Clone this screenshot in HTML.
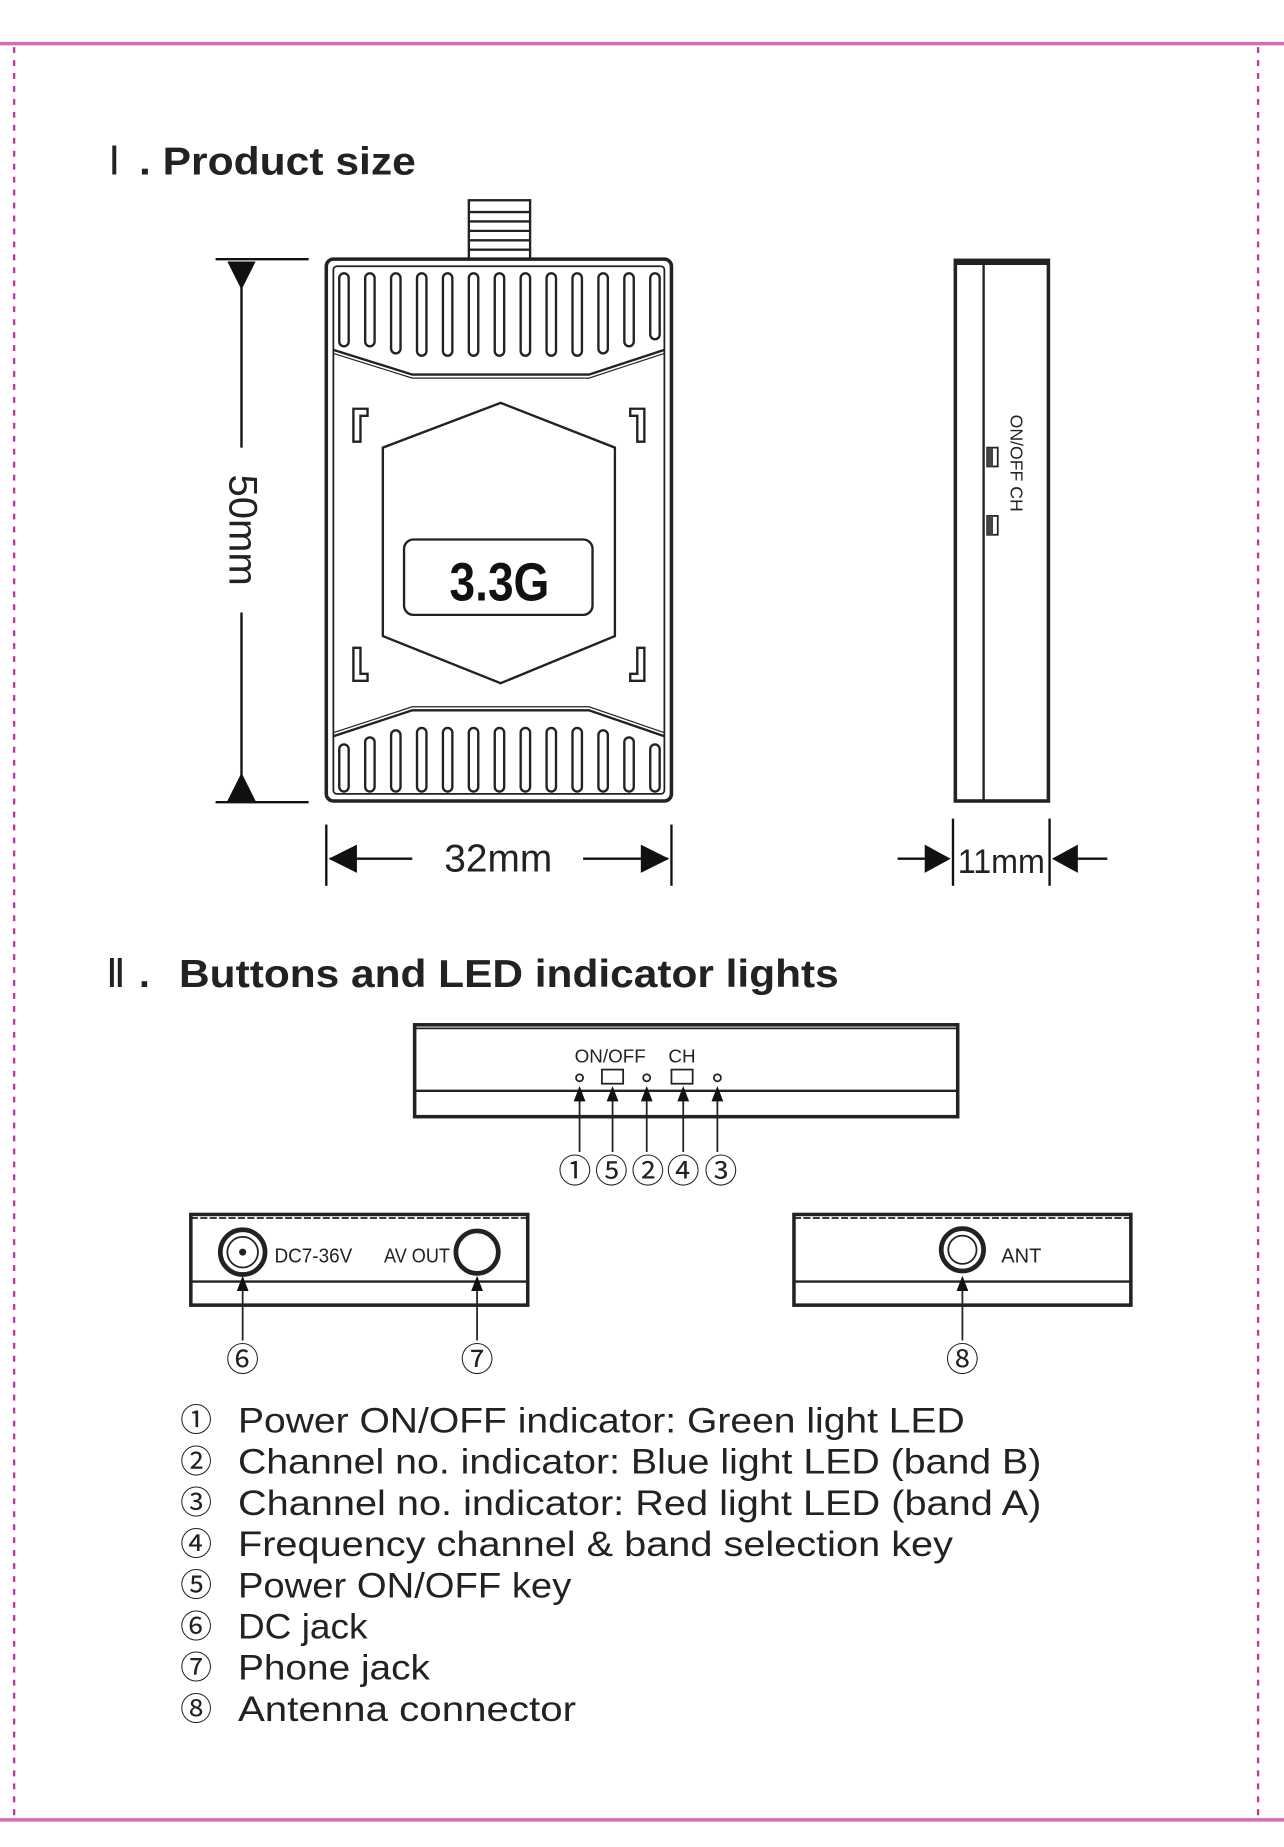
<!DOCTYPE html>
<html><head><meta charset="utf-8"><style>html,body{margin:0;padding:0;background:#fff}svg{display:block}</style></head>
<body>
<svg width="1284" height="1847" viewBox="0 0 1090 1568" preserveAspectRatio="none" xmlns="http://www.w3.org/2000/svg" font-family="Liberation Sans, sans-serif">
<rect width="1090" height="1568" fill="#fff"/>
<line x1="0" y1="37" x2="1090" y2="37" stroke="#d36bb8" stroke-width="3"/>
<line x1="0" y1="1545" x2="1090" y2="1545" stroke="#d36bb8" stroke-width="3"/>
<line x1="12" y1="40" x2="12" y2="1543" stroke="#c0389f" stroke-width="2" stroke-dasharray="5,6"/>
<line x1="1068" y1="40" x2="1068" y2="1543" stroke="#c0389f" stroke-width="2" stroke-dasharray="5,6"/>

<text x="92" y="148" font-size="34" fill="#222" font-family="Liberation Serif, serif">Ⅰ</text>
<text x="118" y="148" font-size="33" font-weight="bold" fill="#222" textLength="235" lengthAdjust="spacingAndGlyphs">. Product size</text>

<!-- antenna -->
<rect x="398" y="170" width="52" height="52" fill="#fff" stroke="#222" stroke-width="2"/>
<g stroke="#222" stroke-width="2">
<line x1="398" y1="180" x2="450" y2="180"/><line x1="398" y1="188" x2="450" y2="188"/><line x1="398" y1="196" x2="450" y2="196"/><line x1="398" y1="204" x2="450" y2="204"/><line x1="398" y1="212" x2="450" y2="212"/>
</g>
<!-- front device -->
<rect x="277" y="220" width="293" height="460" rx="6" fill="#fff" stroke="#222" stroke-width="3"/>
<rect x="283" y="226" width="281" height="448" rx="3" fill="none" stroke="#222" stroke-width="1.5"/>
<g fill="none" stroke="#222" stroke-width="2">
<path d="M283,297 L350,318 L500,318 L564,297"/>
<path d="M283,300 L350,321 L500,321 L564,300" stroke-width="1"/>
<path d="M283,625 L350,603 L500,603 L564,625"/>
<path d="M283,622 L350,600 L500,600 L564,622" stroke-width="1"/>
<path d="M425,342 L522,380 L522,540 L425,580 L325,540 L325,380 Z"/>
<path d="M300,347 h12 v6 h-6 v22 h-6 z"/>
<path d="M547,347 h-12 v6 h6 v22 h6 z"/>
<path d="M300,578 h12 v-6 h-6 v-22 h-6 z"/>
<path d="M547,578 h-12 v-6 h6 v-22 h6 z"/>
<rect x="343" y="458" width="160" height="64" rx="8"/>
</g>
<g fill="none" stroke="#222" stroke-width="2">
<rect x="288" y="232" width="8" height="62" rx="4"/><rect x="310" y="232" width="8" height="62" rx="4"/><rect x="332" y="232" width="8" height="68" rx="4"/><rect x="354" y="232" width="8" height="70" rx="4"/><rect x="376" y="232" width="8" height="70" rx="4"/><rect x="398" y="232" width="8" height="70" rx="4"/><rect x="420" y="232" width="8" height="70" rx="4"/><rect x="442" y="232" width="8" height="70" rx="4"/><rect x="464" y="232" width="8" height="70" rx="4"/><rect x="486" y="232" width="8" height="70" rx="4"/><rect x="508" y="232" width="8" height="68" rx="4"/><rect x="530" y="232" width="8" height="62" rx="4"/><rect x="552" y="232" width="8" height="56" rx="4"/>
<rect x="288" y="632" width="8" height="40" rx="4"/><rect x="310" y="626" width="8" height="46" rx="4"/><rect x="332" y="620" width="8" height="52" rx="4"/><rect x="354" y="618" width="8" height="54" rx="4"/><rect x="376" y="618" width="8" height="54" rx="4"/><rect x="398" y="618" width="8" height="54" rx="4"/><rect x="420" y="618" width="8" height="54" rx="4"/><rect x="442" y="618" width="8" height="54" rx="4"/><rect x="464" y="618" width="8" height="54" rx="4"/><rect x="486" y="618" width="8" height="54" rx="4"/><rect x="508" y="620" width="8" height="52" rx="4"/><rect x="530" y="626" width="8" height="46" rx="4"/><rect x="552" y="632" width="8" height="40" rx="4"/>
</g>
<text x="424" y="510" font-size="46" font-weight="bold" text-anchor="middle" fill="#111" transform="translate(424 0) scale(0.85 1) translate(-424 0)">3.3G</text>

<!-- 50mm dim -->
<g stroke="#111" stroke-width="2">
<line x1="183" y1="220" x2="262" y2="220"/><line x1="183" y1="681" x2="262" y2="681"/>
<line x1="205" y1="240" x2="205" y2="380"/>
<line x1="205" y1="520" x2="205" y2="660"/>
</g>
<path d="M193,222 L217,222 L205,246 Z M193,680 L217,680 L205,656 Z" fill="#111"/>
<text x="0" y="0" font-size="34" fill="#222" text-anchor="middle" transform="translate(195 450) rotate(90)">50mm</text>

<!-- 32mm dim -->
<g stroke="#111" stroke-width="2">
<line x1="277" y1="700" x2="277" y2="752"/><line x1="570" y1="700" x2="570" y2="752"/>
<line x1="280" y1="729" x2="350" y2="729"/><line x1="495" y1="729" x2="567" y2="729"/>
</g>
<path d="M279,729 L303,717 L303,741 Z M568,729 L544,717 L544,741 Z" fill="#111"/>
<text x="423" y="740" font-size="33" fill="#222" text-anchor="middle">32mm</text>

<!-- side view -->
<rect x="811" y="221" width="79" height="459" fill="#fff" stroke="#222" stroke-width="3"/>
<line x1="811" y1="223" x2="890" y2="223" stroke="#222" stroke-width="4"/>
<line x1="835" y1="222" x2="835" y2="679" stroke="#222" stroke-width="2"/>
<rect x="838" y="380" width="9" height="16" fill="#fff" stroke="#222" stroke-width="1.5"/>
<rect x="838" y="380" width="5" height="16" fill="#444"/>
<rect x="838" y="438" width="9" height="16" fill="#fff" stroke="#222" stroke-width="1.5"/>
<rect x="838" y="438" width="5" height="16" fill="#444"/>
<text font-size="15" fill="#222" transform="translate(858 352) rotate(90)">ON/OFF  CH</text>
<g stroke="#111" stroke-width="2">
<line x1="809" y1="695" x2="809" y2="752"/><line x1="891" y1="695" x2="891" y2="752"/>
<line x1="762" y1="729" x2="790" y2="729"/><line x1="912" y1="729" x2="940" y2="729"/>
</g>
<path d="M807,729 L785,717 L785,741 Z M893,729 L915,717 L915,741 Z" fill="#111"/>
<text x="850" y="741" font-size="29" fill="#222" text-anchor="middle" textLength="74" lengthAdjust="spacingAndGlyphs">11mm</text>

<text x="90" y="838" font-size="34" fill="#222" font-family="Liberation Serif, serif">Ⅱ</text>
<text x="118" y="838" font-size="33" font-weight="bold" fill="#222">.</text>
<text x="152" y="838" font-size="33" font-weight="bold" fill="#222" textLength="560" lengthAdjust="spacingAndGlyphs">Buttons and LED indicator lights</text>

<!-- top panel -->
<rect x="352" y="870" width="461" height="78" fill="#fff" stroke="#222" stroke-width="3"/>
<line x1="352" y1="873" x2="813" y2="873" stroke="#222" stroke-width="1.5"/>
<line x1="352" y1="926" x2="813" y2="926" stroke="#222" stroke-width="2"/>
<text x="518" y="902" font-size="16" fill="#222" text-anchor="middle">ON/OFF</text>
<text x="579" y="902" font-size="16" fill="#222" text-anchor="middle">CH</text>
<g fill="#fff" stroke="#222" stroke-width="1.5">
<circle cx="492" cy="915" r="3"/><circle cx="549" cy="915" r="3"/><circle cx="609" cy="915" r="3"/>
<rect x="511" y="908" width="18" height="12"/><rect x="570" y="908" width="18" height="12"/>
</g>
<g stroke="#222" stroke-width="1.5">
<line x1="492" y1="928" x2="492" y2="978"/><line x1="520" y1="928" x2="520" y2="978"/><line x1="549" y1="928" x2="549" y2="978"/><line x1="580" y1="928" x2="580" y2="978"/><line x1="609" y1="928" x2="609" y2="978"/>
</g>
<path d="M487,935 L492,922 L497,935Z M515,935 L520,922 L525,935Z M544,935 L549,922 L554,935Z M575,935 L580,922 L585,935Z M604,935 L609,922 L614,935Z" fill="#111"/>
<g font-size="28" fill="#222" text-anchor="middle" font-family="Noto Sans CJK JP, DejaVu Sans, sans-serif">
<text x="488" y="1004">①</text><text x="519" y="1004">⑤</text><text x="550" y="1004">②</text><text x="580" y="1004">④</text><text x="612" y="1004">③</text>
</g>

<!-- left panel -->
<rect x="162" y="1031" width="286" height="77" fill="#fff" stroke="#222" stroke-width="3"/>
<line x1="162" y1="1034" x2="448" y2="1034" stroke="#222" stroke-width="1.5" stroke-dasharray="6,2"/>
<line x1="162" y1="1088" x2="448" y2="1088" stroke="#222" stroke-width="2"/>
<circle cx="206" cy="1063" r="19" fill="#fff" stroke="#222" stroke-width="4"/>
<circle cx="206" cy="1063" r="13" fill="none" stroke="#222" stroke-width="1.5"/>
<circle cx="206" cy="1063" r="3" fill="#222"/>
<text x="233" y="1072" font-size="17" fill="#222" textLength="66" lengthAdjust="spacingAndGlyphs">DC7-36V</text>
<text x="326" y="1072" font-size="17" fill="#222" textLength="56" lengthAdjust="spacingAndGlyphs">AV OUT</text>
<circle cx="405" cy="1063" r="18" fill="#fff" stroke="#222" stroke-width="4"/>
<line x1="206" y1="1090" x2="206" y2="1138" stroke="#222" stroke-width="1.5"/>
<line x1="405" y1="1090" x2="405" y2="1138" stroke="#222" stroke-width="1.5"/>
<path d="M201,1096 L206,1083 L211,1096Z M400,1096 L405,1083 L410,1096Z" fill="#111"/>

<!-- right panel -->
<rect x="674" y="1031" width="286" height="77" fill="#fff" stroke="#222" stroke-width="3"/>
<line x1="674" y1="1034" x2="960" y2="1034" stroke="#222" stroke-width="1.5" stroke-dasharray="6,2"/>
<line x1="674" y1="1088" x2="960" y2="1088" stroke="#222" stroke-width="2"/>
<circle cx="817" cy="1061" r="18" fill="#fff" stroke="#222" stroke-width="4"/>
<circle cx="817" cy="1061" r="12" fill="none" stroke="#222" stroke-width="1.5"/>
<text x="850" y="1072" font-size="17" fill="#222">ANT</text>
<line x1="817" y1="1090" x2="817" y2="1138" stroke="#222" stroke-width="1.5"/>
<path d="M812,1096 L817,1083 L822,1096Z" fill="#111"/>

<g font-size="28" fill="#222" text-anchor="middle" font-family="Noto Sans CJK JP, DejaVu Sans, sans-serif">
<text x="206" y="1164">⑥</text><text x="405" y="1164">⑦</text><text x="817" y="1164">⑧</text>
</g>

<!-- list -->
<g font-size="30" fill="#222">
<g font-family="Noto Sans CJK JP, DejaVu Sans, sans-serif" font-size="27">
<text x="153" y="1215">①</text><text x="153" y="1250">②</text><text x="153" y="1285">③</text><text x="153" y="1320">④</text><text x="153" y="1355">⑤</text><text x="153" y="1390">⑥</text><text x="153" y="1425">⑦</text><text x="153" y="1460">⑧</text>
</g>
<text x="202" y="1216" textLength="617" lengthAdjust="spacingAndGlyphs">Power ON/OFF indicator: Green light LED</text>
<text x="202" y="1251" textLength="682" lengthAdjust="spacingAndGlyphs">Channel no. indicator: Blue light LED (band B)</text>
<text x="202" y="1286" textLength="682" lengthAdjust="spacingAndGlyphs">Channel no. indicator:  Red light LED (band A)</text>
<text x="202" y="1321" textLength="607" lengthAdjust="spacingAndGlyphs">Frequency channel &amp; band selection key</text>
<text x="202" y="1356" textLength="283" lengthAdjust="spacingAndGlyphs">Power ON/OFF key</text>
<text x="202" y="1391" textLength="110" lengthAdjust="spacingAndGlyphs">DC jack</text>
<text x="202" y="1426" textLength="163" lengthAdjust="spacingAndGlyphs">Phone jack</text>
<text x="202" y="1461" textLength="287" lengthAdjust="spacingAndGlyphs">Antenna connector</text>
</g>
</svg>
</body></html>
